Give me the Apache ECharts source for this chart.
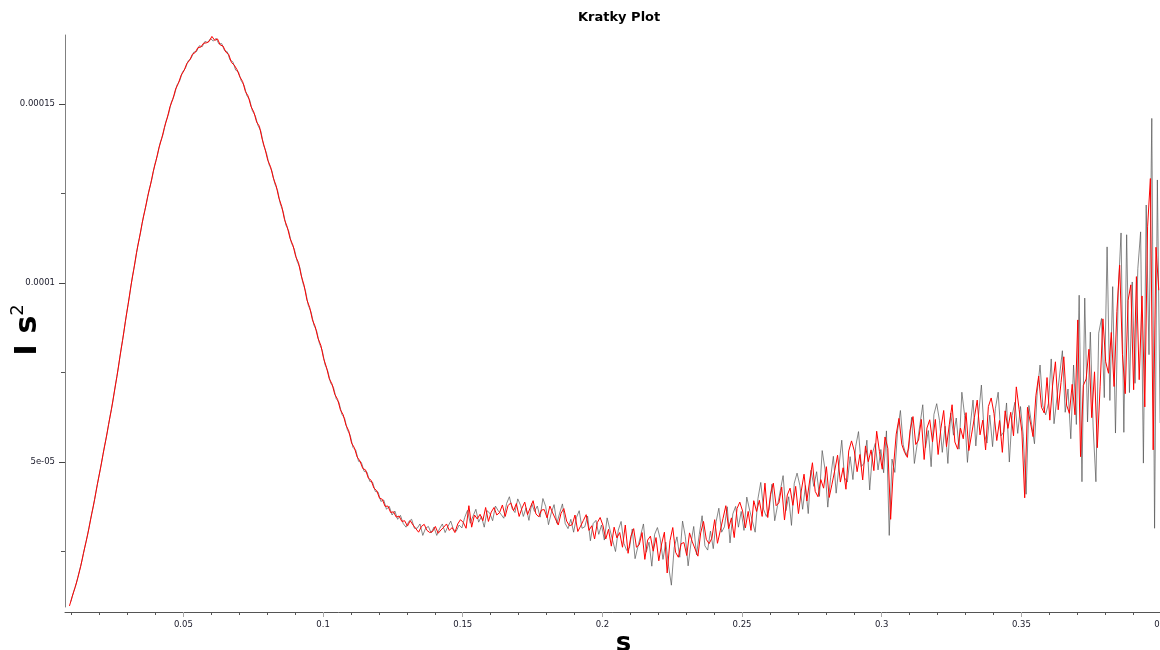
<!DOCTYPE html>
<html>
<head>
<meta charset="utf-8">
<script src="https://cdn.jsdelivr.net/npm/echarts@6/dist/echarts.min.js"></script>
<style>
html,body{margin:0;padding:0;background:#fff;}
#chart{width:1160px;height:650px;}
</style>
</head>
<body>
<div id="chart"></div>
<script>
// s grid of each measured curve (first s value and step)
const redStart = 0.0092;
const blackStart = 0.0097;
const sStep = 0.001;

// I*s^2 values, in units of 1e-6
const redIs2 = [
9.8,12.5,14.9,17.7,20.8,24.5,27.9,31.6,35.7,39.5,
43.8,47.8,52.1,56.1,60.5,64.6,69.3,73.9,79.1,83.9,
89.2,94.0,99.2,103.7,108.5,112.4,116.7,120.3,124.2,127.4,
131.2,134.2,137.7,140.3,143.5,146.1,149.3,151.3,154.2,155.8,
158.1,159.3,161.3,162.2,163.9,164.4,165.8,165.9,167.0,167.1,
167.5,168.9,167.8,168.2,166.5,166.2,164.5,163.9,161.6,160.9,
159.6,157.6,156.3,153.5,152.2,149.3,147.8,145.0,143.8,140.2,
137.5,134.3,132.5,129.3,127.2,123.7,121.4,117.7,115.6,112.4,
110.6,107.4,105.7,102.0,99.4,95.3,93.2,89.7,87.8,84.5,
82.6,78.9,76.5,73.3,71.8,68.9,67.5,64.6,63.2,60.3,
58.7,55.3,54.0,51.4,50.3,48.2,47.8,45.5,44.9,42.7,
42.0,39.9,39.6,37.6,37.7,35.9,36.1,34.6,34.9,33.4,
33.6,32.1,33.6,32.4,31.4,30.4,32.0,32.6,30.9,30.3,
30.6,32.0,30.1,31.0,31.8,32.7,30.9,31.7,30.3,32.7,
33.9,33.1,31.5,37.8,31.8,35.2,34.1,35.4,33.6,37.3,
33.4,36.0,37.3,35.2,35.9,38.0,34.8,37.8,38.6,36.4,
38.4,34.8,37.1,38.8,35.3,37.3,39.2,35.5,34.7,36.6,
36.7,34.4,37.7,35.8,34.1,32.4,35.7,37.0,33.5,32.2,
32.5,35.2,30.6,32.1,33.7,35.3,30.9,32.2,28.5,33.1,
34.5,32.3,28.5,31.2,26.5,31.8,28.8,30.3,26.2,32.4,
24.5,29.2,31.4,26.2,26.9,30.3,22.8,28.2,29.3,25.1,
28.9,22.4,27.1,30.4,19.0,28.0,31.7,24.8,23.4,27.2,
27.5,23.9,30.2,27.7,25.7,23.7,30.2,33.4,28.4,27.2,
28.7,33.9,27.3,30.8,34.3,37.8,31.4,34.4,28.9,37.0,
38.8,36.3,31.6,36.2,30.9,39.2,36.2,39.3,34.8,44.1,
34.5,41.0,44.1,37.8,38.6,43.0,33.8,40.8,42.7,37.9,
43.2,35.6,41.9,46.6,39.1,44.7,49.8,41.8,40.3,45.1,
42.7,48.7,40.1,43.8,47.7,51.9,44.4,48.4,42.4,53.1,
55.9,53.1,47.3,52.1,45.0,54.5,50.1,53.4,47.6,58.6,
52.9,48.0,57.0,53.8,34.0,48.4,57.8,62.2,54.9,52.7,
51.3,59.0,62.7,54.9,56.1,61.9,50.7,59.5,61.8,55.6,
61.9,52.1,59.4,64.4,54.3,60.4,66.0,55.6,53.6,59.5,
56.5,63.8,53.2,57.8,62.5,67.3,57.6,61.7,53.4,65.5,
67.9,63.6,56.0,61.6,52.7,64.3,59.4,63.9,57.3,71.0,
64.7,58.4,40.0,65.3,61.2,57.1,68.5,74.0,65.3,63.7,
73.6,61.7,71.5,78.0,64.6,72.2,79.4,65.9,63.6,71.7,
63.2,89.7,51.5,71.4,73.2,81.5,62.4,75.2,54.0,71.2,
90.0,78.0,74.8,86.2,71.1,92.0,105.0,80.0,69.1,95.1,
99.5,70.2,101.8,73.0,96.4,65.4,115.7,129.2,53.4,110.0,
98.0
];

const blackIs2 = [
11.0,13.8,16.2,19.4,22.5,26.3,29.7,33.8,37.4,41.8,
45.9,49.8,54.3,58.1,62.7,66.8,71.8,76.3,81.7,86.4,
91.8,96.4,101.7,105.8,110.7,114.3,118.7,122.0,126.0,129.0,
133.0,135.7,139.3,141.5,145.1,147.3,150.6,152.4,155.3,156.6,
159.0,160.0,162.1,162.7,164.5,164.7,166.3,166.0,167.5,167.2,
168.3,167.6,168.4,166.8,166.9,165.0,164.6,162.3,161.8,159.5,
159.0,156.5,155.3,152.4,151.2,148.1,146.8,144.0,142.5,138.5,
136.4,133.0,131.3,127.8,125.9,122.1,120.0,116.2,114.5,111.1,
109.5,106.1,104.3,100.2,97.8,93.8,91.9,88.3,86.6,83.1,
81.2,77.2,75.4,72.1,70.9,67.7,66.6,63.4,62.2,59.0,
57.5,54.1,53.3,50.2,49.9,47.4,47.2,44.6,44.4,41.8,
41.6,39.0,39.4,36.8,37.6,35.2,36.3,34.0,35.1,32.8,
31.8,33.4,34.0,31.5,31.5,32.7,29.5,31.5,32.0,30.2,
31.8,29.5,31.4,32.7,30.3,32.0,33.5,31.1,30.7,32.4,
31.6,34.5,36.5,32.9,34.9,36.8,33.2,34.8,31.8,36.4,
35.7,33.6,37.7,36.4,35.4,34.3,38.4,40.3,37.0,35.9,
39.7,37.9,34.8,37.2,33.7,38.4,36.2,37.7,34.6,39.8,
37.6,32.5,35.8,38.1,32.9,35.7,38.3,32.8,31.4,34.0,
30.4,34.5,36.4,31.5,31.9,34.9,28.0,32.8,33.7,29.8,
32.4,28.2,34.4,31.1,28.0,25.0,31.0,33.4,27.3,25.3,
26.0,31.3,23.0,26.3,29.5,32.7,24.8,27.6,20.9,29.8,
31.7,28.6,22.8,27.6,20.9,15.6,26.1,29.1,23.4,33.5,
29.2,21.0,27.3,32.0,24.1,29.8,35.0,26.6,25.4,30.7,
25.8,33.3,37.1,30.4,31.9,37.5,27.4,35.5,37.6,31.8,
36.2,30.9,40.2,36.6,33.5,30.4,39.8,44.3,36.8,34.8,
36.7,43.8,33.6,37.8,42.0,46.2,36.4,40.3,32.3,44.1,
46.9,43.5,36.8,43.4,35.6,47.7,43.2,47.3,40.4,53.2,
48.0,37.4,45.6,51.6,41.3,48.9,56.1,45.6,44.4,51.5,
45.1,54.4,58.5,48.7,49.7,56.1,42.2,52.5,55.2,47.8,
53.5,47.0,58.7,29.5,50.8,47.1,58.9,64.4,54.8,51.9,
53.8,62.5,49.6,55.0,60.5,66.0,54.0,58.8,48.7,63.3,
66.3,61.6,52.7,60.0,49.6,63.7,57.5,62.3,53.6,69.5,
63.0,49.9,60.0,67.3,54.5,63.4,71.5,57.9,55.3,63.1,
54.3,64.9,69.5,57.3,58.4,66.5,50.0,63.0,66.7,58.0,
65.5,57.2,41.0,65.8,60.4,55.1,69.8,77.1,65.7,63.2,
66.4,78.8,60.7,67.6,74.3,81.1,63.9,70.4,56.5,77.1,
60.5,96.6,44.5,95.8,61.2,86.3,59.8,44.5,86.0,90.1,
68.0,110.1,67.2,99.0,58.1,97.8,114.0,58.3,113.5,69.4,
100.3,72.0,104.0,114.3,49.7,121.8,80.0,146.0,31.5,128.8,
60.9
];

// axis ticks
const xTickValues = [0.05, 0.1, 0.15, 0.2, 0.25, 0.3, 0.35, 0.4];
const xTickLabels = ['0.05', '0.1', '0.15', '0.2', '0.25', '0.3', '0.35', '0.4'];
const xMinorTicks = [0.01,0.02,0.03,0.04,0.06,0.07,0.08,0.09,0.11,0.12,0.13,0.14,0.16,0.17,0.18,0.19,
  0.21,0.22,0.23,0.24,0.26,0.27,0.28,0.29,0.31,0.32,0.33,0.34,0.36,0.37,0.38,0.39];
const yTickValues = [5e-5, 1e-4, 1.5e-4];
const yTickLabels = ['5e-05', '0.0001', '0.00015'];
const yMinorTicks = [2.5e-5, 7.5e-5, 1.25e-4];

const UNIT = 1e-6;
const redData = redIs2.map((v, i) => [redStart + i * sStep, v * UNIT]);
const blackData = blackIs2.map((v, i) => [blackStart + i * sStep, v * UNIT]);

function lookup(vals, labels) {
  return function (v) {
    for (let i = 0; i < vals.length; i++) {
      if (Math.abs(vals[i] - v) < Math.abs(vals[i]) * 1e-6) return labels[i];
    }
    return '';
  };
}

const FONT = 'DejaVu Sans';
const X_MIN = 0.0076, X_MAX = 0.4;
const Y_MIN = 9.5e-6, Y_MAX = 169.3e-6;

const chart = echarts.init(document.getElementById('chart'), null, {renderer: 'canvas'});
chart.setOption({
  animation: false,
  backgroundColor: '#ffffff',
  title: {
    text: 'Kratky Plot',
    left: 578, top: 11, padding: 0,
    textStyle: {fontFamily: FONT, fontWeight: 'bold', fontSize: 13, color: '#000'}
  },
  grid: {left: 65, right: -1, top: 35, bottom: 43, containLabel: false, outerBoundsMode: 'none'},
  xAxis: [
    {
      type: 'value', min: X_MIN, max: X_MAX, offset: 5, position: 'bottom',
      splitLine: {show: false},
      axisLine: {show: true, lineStyle: {color: '#555', width: 1}},
      axisTick: {show: true, customValues: xTickValues, length: 5, lineStyle: {color: '#aaa'}},
      axisLabel: {show: true, customValues: xTickValues, formatter: lookup(xTickValues, xTickLabels),
        fontFamily: FONT, fontSize: 8.5, color: '#1a1a2a', margin: 8},
      name: 's', nameLocation: 'middle', nameGap: 19, nameMoveOverlap: false,
      nameTextStyle: {fontFamily: FONT, fontWeight: 'bold', fontSize: 26, color: '#000', padding: [0, 0, 0, 21]}
    },
    {
      type: 'value', min: X_MIN, max: X_MAX, offset: 5, position: 'bottom',
      splitLine: {show: false},
      axisLine: {show: false},
      axisTick: {show: true, customValues: xMinorTicks, length: 3, lineStyle: {color: '#555'}},
      axisLabel: {show: false}
    }
  ],
  yAxis: [
    {
      type: 'value', min: Y_MIN, max: Y_MAX, position: 'left',
      splitLine: {show: false},
      axisLine: {show: true, lineStyle: {color: '#808080', width: 1}},
      axisTick: {show: true, customValues: yTickValues, length: 6, lineStyle: {color: '#444'}},
      axisLabel: {show: true, customValues: yTickValues, formatter: lookup(yTickValues, yTickLabels),
        fontFamily: FONT, fontSize: 8.5, color: '#1a1a2a', margin: 10},
      name: '{a|I }{b|s}{c|2}', nameLocation: 'middle', nameRotate: 90, nameGap: 22, nameMoveOverlap: false,
      nameTextStyle: {
        padding: [0, 18, 0, 0],
        rich: {
          a: {fontFamily: FONT, fontWeight: 'bold', fontSize: 31, color: '#000', verticalAlign: 'bottom', lineHeight: 34},
          b: {fontFamily: FONT, fontWeight: 'bold', fontSize: 30, color: '#000', verticalAlign: 'bottom', lineHeight: 34},
          c: {fontFamily: FONT, fontSize: 18, color: '#000', verticalAlign: 'top', lineHeight: 20}
        }
      }
    },
    {
      type: 'value', min: Y_MIN, max: Y_MAX, position: 'left',
      splitLine: {show: false},
      axisLine: {show: false},
      axisTick: {show: true, customValues: yMinorTicks, length: 4, lineStyle: {color: '#555'}},
      axisLabel: {show: false}
    }
  ],
  series: [
    {
      name: 'black', type: 'line', data: blackData, xAxisIndex: 0, yAxisIndex: 0,
      showSymbol: false, symbol: 'none', silent: true,
      lineStyle: {color: '#555', width: 1, opacity: 0.7}
    },
    {
      name: 'red', type: 'line', data: redData, xAxisIndex: 0, yAxisIndex: 0,
      showSymbol: false, symbol: 'none', silent: true,
      lineStyle: {color: '#ff0000', width: 1}
    }
  ]
});
</script>
</body>
</html>
